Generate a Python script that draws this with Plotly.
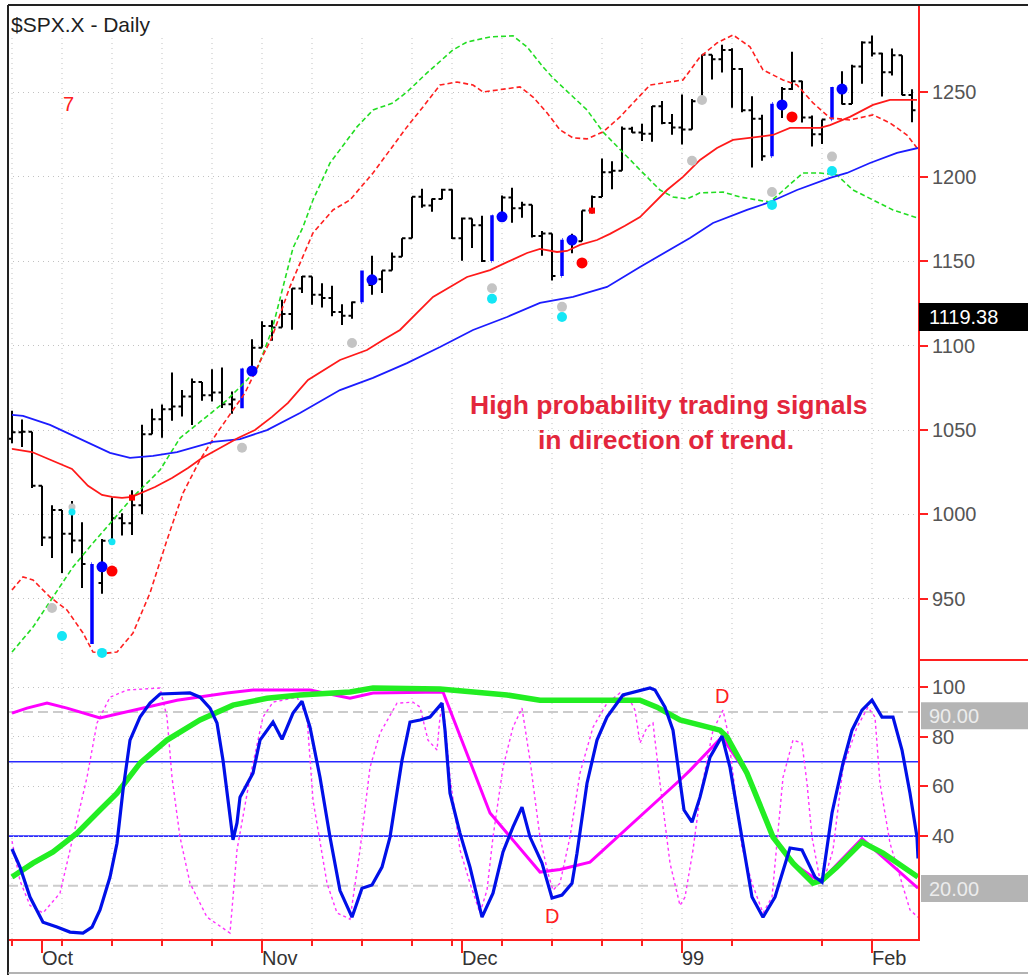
import plotly.graph_objects as go

# ---------------- DATA (trading-day index: 1998-10-01 = 0) ----------------
bar_index = list(range(-3, 88))
opens = [1044.8, 1048.7, 1049.0, 1017.0, 986.4, 1002.6, 988.6, 984.6, 970.7, 959.4,
         984.4, 997.7, 994.8, 1005.5, 1047.5, 1056.4, 1062.4, 1063.9, 1069.9, 1078.5,
         1070.7, 1072.3, 1065.3, 1068.1, 1085.9, 1098.7, 1111.6, 1110.8, 1118.7, 1133.9,
         1141.0, 1130.2, 1128.3, 1120.0, 1117.7, 1125.7, 1135.9, 1139.3, 1144.5, 1152.6,
         1163.6, 1188.2, 1183.0, 1186.9, 1192.3, 1163.6, 1175.3, 1171.3, 1150.1, 1176.7,
         1187.7, 1181.4, 1183.5, 1165.0, 1166.5, 1141.2, 1162.8, 1161.9, 1180.0, 1188.0,
         1202.8, 1203.6, 1228.5, 1226.3, 1225.5, 1241.8, 1231.9, 1229.2, 1228.1, 1244.8,
         1272.3, 1269.7, 1275.1, 1263.9, 1239.5, 1234.4, 1212.2, 1243.3, 1252.0, 1256.6,
         1235.2, 1225.2, 1234.0, 1252.3, 1243.2, 1265.4, 1279.6, 1273.0, 1262.0, 1272.1,
         1248.5]
highs = [1061.5, 1056.3, 1049.0, 1017.0, 1005.5, 1002.6, 1008.0, 995.4, 970.7, 985.5,
         1010.1, 1000.8, 1014.4, 1053.1, 1062.7, 1065.2, 1084.1, 1073.7, 1080.6, 1078.5,
         1086.0, 1087.1, 1072.8, 1086.5, 1103.8, 1114.4, 1115.0, 1127.2, 1134.0, 1141.3,
         1141.0, 1136.9, 1135.5, 1124.5, 1126.1, 1144.5, 1153.3, 1144.5, 1155.2, 1163.6,
         1188.2, 1193.0, 1187.2, 1193.0, 1192.7, 1175.9, 1175.3, 1177.0, 1177.3, 1189.0,
         1193.5, 1185.2, 1183.5, 1167.9, 1166.5, 1162.8, 1166.3, 1180.0, 1188.9, 1210.9,
         1209.2, 1229.9, 1229.7, 1231.5, 1241.9, 1244.9, 1237.2, 1248.8, 1246.1, 1272.5,
         1272.3, 1278.2, 1276.2, 1264.5, 1247.8, 1236.8, 1243.3, 1253.3, 1274.1, 1256.9,
         1236.4, 1234.0, 1253.3, 1262.6, 1266.4, 1280.4, 1283.8, 1273.5, 1276.0, 1272.1,
         1251.9]
lows = [1042.2, 1039.9, 1015.7, 981.3, 974.2, 965.3, 977.1, 956.5, 923.3, 953.0,
        984.4, 987.6, 987.8, 1000.1, 1047.5, 1045.5, 1055.5, 1058.0, 1053.0, 1067.4,
        1067.0, 1063.1, 1059.7, 1063.0, 1085.9, 1098.7, 1102.9, 1110.8, 1109.5, 1131.2,
        1124.3, 1122.6, 1117.4, 1112.3, 1115.9, 1125.7, 1130.2, 1131.2, 1144.5, 1152.6,
        1163.6, 1181.7, 1179.4, 1186.8, 1163.2, 1150.3, 1157.8, 1149.6, 1150.1, 1176.7,
        1172.8, 1175.7, 1164.1, 1153.2, 1138.6, 1141.2, 1154.7, 1161.9, 1178.3, 1188.0,
        1192.7, 1203.6, 1226.1, 1221.2, 1220.8, 1231.2, 1225.0, 1219.1, 1228.1, 1244.8,
        1257.7, 1261.8, 1241.0, 1238.3, 1205.5, 1209.5, 1212.2, 1234.9, 1251.5, 1232.2,
        1218.0, 1219.5, 1234.0, 1242.8, 1243.2, 1255.2, 1271.3, 1247.6, 1260.0, 1248.4,
        1232.3]
closes = [1048.7, 1049.0, 1017.0, 986.4, 1002.6, 988.6, 984.6, 970.7, 959.4, 984.4,
          997.7, 994.8, 1005.5, 1047.5, 1056.4, 1062.4, 1063.9, 1069.9, 1078.5, 1070.7,
          1072.3, 1065.3, 1068.1, 1085.9, 1098.7, 1111.6, 1110.8, 1118.7, 1133.9, 1141.0,
          1130.2, 1128.3, 1120.0, 1117.7, 1125.7, 1135.9, 1139.3, 1144.5, 1152.6, 1163.6,
          1188.2, 1183.0, 1186.9, 1192.3, 1163.6, 1175.3, 1171.3, 1150.1, 1176.7, 1187.7,
          1181.4, 1183.5, 1165.0, 1166.5, 1141.2, 1162.8, 1161.9, 1180.0, 1188.0, 1202.8,
          1203.6, 1228.5, 1226.3, 1225.5, 1241.8, 1231.9, 1229.2, 1228.1, 1244.8, 1272.3,
          1269.7, 1275.1, 1263.9, 1239.5, 1234.4, 1212.2, 1243.3, 1252.0, 1256.6, 1235.2,
          1225.2, 1234.0, 1252.3, 1243.2, 1265.4, 1279.6, 1273.0, 1262.0, 1272.1, 1248.5,
          1239.4]
signal_bars = [5, 20, 32, 45, 52, 73, 79]

month_ticks = [0, 22, 42, 64, 83]
month_labels = ["Oct", "Nov", "Dec", "99", "Feb"]
week_ticks = [-3, 2, 7, 12, 17, 22, 27, 32, 37, 41, 46, 51, 56, 60, 64, 69, 78, 83]
price_ticks = [950, 1000, 1050, 1100, 1150, 1200, 1250]
osc_ticks = [40, 60, 80, 100]

# moving averages / bands: (day index, price)
ma_short = [(-3, 1038.8), (-1, 1037.0), (1, 1032.0), (3, 1027.0), (4.6, 1017.0), (6, 1011.6),
            (7, 1010.4), (8, 1009.8), (9, 1010.4), (10, 1012.8), (11.3, 1016.3), (13, 1021.6),
            (14.6, 1027.5), (16, 1033.5), (18, 1040.0), (19.6, 1045.3), (21.3, 1050.0),
            (23, 1057.8), (24.6, 1066.1), (26.6, 1079.7), (29.8, 1091.5), (32.5, 1097.4),
            (34.1, 1103.4), (35.8, 1109.3), (37.5, 1119.4), (39.1, 1128.9), (40.8, 1134.8),
            (42.5, 1140.7), (44.8, 1144.8), (46.5, 1149.6), (48.5, 1154.9), (49.8, 1157.3),
            (51.5, 1155.5), (52.5, 1156.1), (53.8, 1159.7), (55.5, 1162.6), (56.8, 1166.2),
            (58.3, 1171.0), (59.8, 1176.2), (62.5, 1192.2), (64.1, 1200.0), (65.8, 1210.0),
            (67.5, 1217.1), (69.1, 1221.9), (70.8, 1223.1), (73.1, 1224.8), (74.8, 1229.0),
            (77.8, 1229.0), (78.8, 1230.7), (80.8, 1235.5), (83.1, 1242.6), (84.8, 1245.6),
            (87.5, 1245.6)]
ma_long = [(-3, 1059.0), (-1.9, 1058.4), (0.8, 1053.1), (4.1, 1044.1), (6.8, 1036.5),
           (8.8, 1033.5), (11.1, 1034.7), (13.5, 1037.0), (17.1, 1043.0), (19.8, 1044.7),
           (22.5, 1050.0), (25.8, 1060.1), (29.8, 1073.7), (33.1, 1080.9), (36.5, 1089.7),
           (39.8, 1099.2), (43.1, 1109.3), (46.5, 1117.0), (49.8, 1125.3), (53.1, 1128.9),
           (56.5, 1134.8), (59.8, 1146.6), (64.8, 1163.8), (67.1, 1172.7), (70.5, 1180.4),
           (72.8, 1185.1), (75.5, 1192.2), (78.8, 1199.4), (80.5, 1202.3), (82.8, 1208.2),
           (85.5, 1214.2), (87.6, 1217.1)]
band_red = [(-3, 955.3), (-1.9, 963.0), (-0.9, 961.2), (0.8, 951.1), (2.5, 943.4), (4.1, 929.8),
            (5.1, 918.5), (6.5, 917.9), (7.5, 918.5), (9.1, 929.8), (10.8, 953.5), (12.5, 984.9),
            (14.1, 1012.7), (15.8, 1032.3), (17.5, 1048.3), (19.1, 1061.9), (20.3, 1072.0),
            (22, 1093.0), (23, 1105.0), (24.8, 1135.0), (27.1, 1166.8), (29.1, 1180.4),
            (30.8, 1186.3), (33.1, 1202.3), (36.5, 1229.6), (38.1, 1241.4), (39.8, 1254.4),
            (41.5, 1256.2), (43.1, 1254.4), (44.1, 1250.3), (45.5, 1251.5), (47.8, 1253.3),
            (49.1, 1247.3), (50.5, 1237.9), (51.8, 1227.8), (53.1, 1223.1), (54.5, 1222.5),
            (56.1, 1226.6), (57.8, 1235.5), (60.8, 1254.4), (64.1, 1257.4), (65.8, 1271.0),
            (67.5, 1279.3), (69.1, 1284.1), (70.8, 1277.0), (72.1, 1263.3), (74.1, 1257.4),
            (75.5, 1254.4), (77.1, 1243.8), (78.8, 1234.9), (80.8, 1233.7), (83.1, 1236.7),
            (84.8, 1231.9), (86.5, 1224.8), (87.5, 1217.1)]
band_green = [(-3, 918.5), (-0.9, 933.3), (1.1, 951.1), (3.1, 968.9), (5.1, 983.1), (7.1, 996.7),
              (9.1, 1010.4), (11.8, 1026.3), (13.8, 1045.3), (15.8, 1054.8), (18.5, 1067.8),
              (20.5, 1079.7), (21.6, 1087.4), (23, 1109.3), (25.1, 1157.9), (26.1, 1170.3),
              (27.1, 1186.3), (28.8, 1208.2), (30.5, 1221.9), (31.5, 1229.6), (33.1, 1239.6),
              (35.1, 1243.8), (36.5, 1250.3), (38.5, 1261.6), (41.1, 1275.2), (42.5, 1279.9),
              (44.8, 1282.9), (47.1, 1283.5), (48.5, 1277.0), (50.1, 1265.1), (51.1, 1258.6),
              (53.1, 1247.3), (54.5, 1239.6), (56.1, 1226.6), (58.1, 1214.2), (59.8, 1204.1),
              (61.8, 1192.2), (63.1, 1188.1), (64.5, 1186.9), (65.8, 1190.5), (68.1, 1191.0),
              (69.8, 1188.1), (71.5, 1186.3), (72.8, 1185.1), (74.5, 1194.0), (76.1, 1202.3),
              (77.8, 1202.3), (79.5, 1201.1), (81.1, 1192.2), (83.1, 1186.3), (85.1, 1180.4),
              (87.5, 1175.7)]

# signal markers (day index, price)
blue_dots = [(6, 969.0), (21, 1085.0), (33, 1139.0), (46, 1176.3), (53, 1162.6), (74, 1242.6), (80, 1252.0)]
red_dots = [(7, 966.5), (54, 1149.0), (75, 1235.5)]
red_small = [(9, 1010.0), (55, 1180.0)]
cyan_dots = [(2, 928.0), (6, 918.0), (45, 1127.8), (52, 1117.0), (73, 1183.4), (79, 1203.5)]
cyan_small = [(3, 1001.4), (7, 983.8)]
gray_dots = [(1, 944.6), (20, 1039.5), (31, 1101.6), (45, 1134.0), (52, 1123.0), (65, 1209.5),
             (66, 1245.5), (73, 1191.0), (79, 1212.0)]
gray_small = [(3, 1004.5)]
last_price_label = 1119.38

# oscillator pane (day index, value)
osc_fast = [(-3, 34.8), (-2.2, 27.5), (-1.2, 15.4), (0.1, 5.3), (1.5, 3.3), (2.8, 1.3), (4.1, 0.9),
            (5, 3.3), (5.8, 10.2), (6.8, 23.5), (7.5, 37.1), (8.1, 58.5), (8.8, 78.7), (9.8, 88.0),
            (10.8, 93.6), (11.8, 97.3), (14.8, 97.7), (15.8, 96.0), (16.8, 91.6), (17.5, 85.6),
            (18.1, 70.6), (18.8, 47.7), (19.1, 38.5), (19.5, 45.3), (19.8, 55.7), (21.1, 65.4),
            (21.8, 78.7), (23.1, 86.0), (24, 79.0), (25.1, 89.6), (26, 94.4), (26.8, 83.9),
            (27.8, 63.7), (28.8, 39.6), (29.8, 18.0), (31, 7.3), (32, 19.0), (33, 20.3), (34, 27.5),
            (34.8, 39.6), (36, 70.6), (36.8, 86.0), (37.8, 86.8), (38.8, 88.0), (40, 93.6),
            (40.3, 82.7), (40.8, 57.3), (41.8, 41.2), (42.8, 27.5), (44, 7.3), (45.1, 17.0),
            (46.1, 33.6), (47.1, 43.7), (48, 51.7), (48.8, 39.6), (50, 29.1), (51, 15.0), (52, 16.2),
            (53, 21.0), (53.5, 33.1), (54.5, 61.3), (55.5, 78.7), (56.5, 88.0), (58.1, 96.9),
            (60.8, 99.7), (61.3, 98.9), (62.3, 92.0), (63.1, 82.7), (63.5, 70.6), (63.8, 62.0),
            (64.2, 50.5), (65, 45.6), (65.8, 55.7), (66.8, 71.8), (68, 80.3), (68.8, 67.7),
            (69.8, 43.7), (71, 15.4), (72.1, 7.3), (73.3, 15.4), (74.8, 35.2), (76, 34.4),
            (77.3, 23.5), (78, 21.4), (79, 49.3), (80.1, 69.4), (81, 82.7), (82, 90.8), (83, 94.8),
            (84, 88.0), (85.1, 88.0), (86, 74.7), (86.8, 57.3), (87.5, 39.6), (87.6, 31.0)]
osc_green = [(-3, 23.5), (-0.9, 29.1), (1.1, 33.6), (3.5, 41.2), (5.8, 50.5), (7.5, 57.3), (9.8, 69.4),
             (12.5, 78.7), (15.8, 86.8), (19.1, 92.8), (22.5, 95.6), (25.8, 96.9), (30.8, 98.1),
             (33.1, 99.7), (39.8, 99.3), (43.8, 98.1), (46.5, 96.9), (49.8, 94.8), (56.5, 94.8),
             (59.8, 94.8), (61.5, 92.0), (63.1, 88.0), (63.8, 86.8), (67.8, 82.7), (68.5, 80.0),
             (70.5, 65.4), (73.1, 39.6), (75.1, 29.1), (77.1, 21.0), (78, 22.2), (79.5, 27.5),
             (82, 37.6), (84.1, 33.1), (87.6, 23.5)]
osc_magenta = [(-3, 89.6), (-1.5, 91.6), (0.5, 93.6), (2.5, 91.6), (5.8, 87.6), (7.1, 88.8), (10.1, 91.6),
               (13.5, 94.8), (18.5, 97.7), (21.1, 98.9), (26.8, 98.9), (30.8, 95.6), (33.1, 97.7),
               (40.1, 98.1), (44.8, 49.3), (49.8, 25.5), (51.8, 26.5), (54.8, 29.5), (63.8, 62.6),
               (64.8, 66.5), (68, 80.0), (70.5, 65.0), (73.1, 40.0), (75.1, 29.0), (77.8, 21.5),
               (82, 39.0), (87.6, 19.0)]
osc_magenta_fast = [(-3, 38.0), (-2.2, 22.0), (-1.2, 12.0), (0.1, 9.0), (1.8, 17.0), (3.1, 39.6), (4.5, 63.7),
                    (5.5, 85.6), (6.8, 96.0), (8.5, 98.9), (11.8, 99.7), (12.5, 88.0), (13, 63.7),
                    (13.8, 39.6), (14.8, 21.0), (16.5, 7.3), (18.8, 0.9), (19.5, 34.4), (20.8, 63.7),
                    (22.1, 88.0), (23.1, 94.0), (25.5, 96.0), (26.5, 88.0), (27.1, 54.5), (28.5, 21.0),
                    (29.5, 9.0), (30.8, 6.5), (31.8, 34.4), (32.8, 67.7), (33.8, 81.5), (35.5, 93.6),
                    (37.1, 94.0), (37.8, 92.0), (38.6, 78.7), (39.5, 74.7), (39.8, 88.0), (40.1, 93.6),
                    (40.8, 63.7), (41.8, 34.4), (42.8, 21.0), (43.8, 9.0), (44.5, 18.2), (45.1, 39.6),
                    (46.1, 67.7), (47.1, 83.9), (48, 91.6), (48.8, 70.6), (49.8, 39.6), (50.6, 25.0),
                    (51.1, 18.2), (51.8, 21.0), (52.8, 39.6), (53.8, 65.4), (55.1, 83.9), (56.5, 93.6),
                    (57.8, 97.7), (58.8, 94.8), (59.3, 90.8), (59.8, 77.5), (60.5, 83.9), (61.1, 85.6),
                    (61.8, 61.3), (62.8, 29.1), (63.8, 12.0), (64.3, 15.4), (65.1, 34.4), (65.8, 55.7),
                    (66.5, 70.6), (67.1, 82.7), (68.1, 90.8), (68.6, 81.5), (69.3, 58.5), (70, 35.6),
                    (71, 21.0), (72.1, 9.0), (73, 15.4), (73.6, 41.2), (74.1, 63.7), (75.1, 78.7),
                    (76, 77.5), (76.5, 61.3), (77, 39.6), (77.8, 22.2), (78.5, 26.3), (79.1, 34.4),
                    (80.1, 67.7), (81.5, 83.9), (82.6, 92.0), (83.3, 88.0), (83.8, 61.3), (84.8, 37.1),
                    (86, 21.0), (86.8, 10.2), (87.6, 7.3)]
osc_levels_blue = [70, 40]
osc_levels_gray = [90, 20]
d_labels = [(68, 96.5), (51, 7.7)]

# ---------------- FIGURE ----------------
FONT = "Liberation Sans, Arial, sans-serif"
W, H = 1028, 975
ML, MR, MT, MB = 8, 110, 5, 36
PW, PH = W - ML - MR, H - MT - MB
SPLIT = 279 / PH
XR = [-3.4, 87.6]


def px_x(p):
    return (p - ML) / PW


def px_y(p):
    return (H - MB - p) / PH


def xs(pairs):
    return [a for a, _ in pairs]


def ys(pairs):
    return [b for _, b in pairs]


fig = go.Figure()

norm = [i for i, d in enumerate(bar_index) if d not in signal_bars]
sig = [i for i, d in enumerate(bar_index) if d in signal_bars]

# bands
fig.add_trace(go.Scatter(x=xs(band_green), y=ys(band_green), mode="lines",
                         line=dict(color="#22dd22", width=1.6, dash="5px,3px"), xaxis="x", yaxis="y"))
fig.add_trace(go.Scatter(x=xs(band_red), y=ys(band_red), mode="lines",
                         line=dict(color="#ff2020", width=1.6, dash="5px,3px"), xaxis="x", yaxis="y"))
fig.add_trace(go.Scatter(x=xs(ma_long), y=ys(ma_long), mode="lines",
                         line=dict(color="#1c1cff", width=1.8), xaxis="x", yaxis="y"))
fig.add_trace(go.Scatter(x=xs(ma_short), y=ys(ma_short), mode="lines",
                         line=dict(color="#ff1a1a", width=1.8), xaxis="x", yaxis="y"))

fig.add_trace(go.Ohlc(x=[bar_index[i] for i in norm], open=[opens[i] for i in norm],
                      high=[highs[i] for i in norm], low=[lows[i] for i in norm],
                      close=[closes[i] for i in norm], tickwidth=0.35,
                      increasing=dict(line=dict(color="black", width=2)),
                      decreasing=dict(line=dict(color="black", width=2)),
                      xaxis="x", yaxis="y", hoverinfo="skip"))
fig.add_trace(go.Ohlc(x=[bar_index[i] for i in sig], open=[opens[i] for i in sig],
                      high=[highs[i] for i in sig], low=[lows[i] for i in sig],
                      close=[closes[i] for i in sig], tickwidth=0.06,
                      increasing=dict(line=dict(color="#0000ff", width=3.5)),
                      decreasing=dict(line=dict(color="#0000ff", width=3.5)),
                      xaxis="x", yaxis="y", hoverinfo="skip"))


def dots(pairs, color, size, symbol="circle"):
    fig.add_trace(go.Scatter(x=xs(pairs), y=ys(pairs), mode="markers",
                             marker=dict(color=color, size=size, symbol=symbol, line=dict(width=0)),
                             xaxis="x", yaxis="y"))


dots(gray_dots, "#c4c4c4", 10)
dots(gray_small, "#c4c4c4", 7)
dots(cyan_dots, "#14e6f5", 10)
dots(cyan_small, "#14e6f5", 7)
dots(blue_dots, "#0000ff", 11)
dots(red_dots, "#ff0000", 11)
dots(red_small, "#ff0000", 6, "square")

# oscillator pane
fig.add_trace(go.Scatter(x=xs(osc_magenta_fast), y=ys(osc_magenta_fast), mode="lines",
                         line=dict(color="#ff33ff", width=1.4, dash="3px,3px"), xaxis="x2", yaxis="y2"))
fig.add_trace(go.Scatter(x=xs(osc_magenta), y=ys(osc_magenta), mode="lines",
                         line=dict(color="#ff00ff", width=3), xaxis="x2", yaxis="y2"))
fig.add_trace(go.Scatter(x=xs(osc_green), y=ys(osc_green), mode="lines",
                         line=dict(color="#22ee22", width=5.5), xaxis="x2", yaxis="y2"))
fig.add_trace(go.Scatter(x=xs(osc_fast), y=ys(osc_fast), mode="lines",
                         line=dict(color="#0010e8", width=3.2), xaxis="x2", yaxis="y2"))

shapes = []
# vertical dotted weekly grid
for w in week_ticks:
    shapes.append(dict(type="line", xref="x", yref="paper", x0=w, x1=w, y0=0, y1=px_y(38),
                       line=dict(color="#c2c2c2", width=1, dash="1px,4px"), layer="below"))
for lv in osc_levels_blue:
    shapes.append(dict(type="line", xref="paper", yref="y2", x0=0, x1=1, y0=lv, y1=lv,
                       line=dict(color="#2a2aff", width=1.6), layer="below"))
for lv in osc_levels_gray:
    shapes.append(dict(type="line", xref="paper", yref="y2", x0=0, x1=1, y0=lv, y1=lv,
                       line=dict(color="#cccccc", width=2, dash="10px,5px"), layer="below"))
# red separator on the right scale
shapes.append(dict(type="line", xref="paper", yref="paper", x0=1, x1=px_x(1028), y0=SPLIT, y1=SPLIT,
                   line=dict(color="#ff2020", width=2)))
# value boxes
shapes.append(dict(type="rect", xref="paper", yref="y", x0=1.001, x1=px_x(1028), y0=1108.7, y1=1125.3,
                   fillcolor="black", line=dict(width=0)))
shapes.append(dict(type="rect", xref="paper", yref="y2", x0=px_x(921), x1=px_x(1028), y0=83.1, y1=94.0,
                   fillcolor="#b4b4b4", line=dict(width=0)))
shapes.append(dict(type="rect", xref="paper", yref="y2", x0=px_x(921), x1=px_x(1028), y0=13.4, y1=24.3,
                   fillcolor="#b4b4b4", line=dict(width=0)))
# frame
shapes.append(dict(type="line", xref="paper", yref="paper", x0=0, x1=px_x(1028), y0=px_y(5), y1=px_y(5),
                   line=dict(color="#222222", width=2)))
shapes.append(dict(type="line", xref="paper", yref="paper", x0=0, x1=0, y0=px_y(975), y1=px_y(5),
                   line=dict(color="#222222", width=2)))
shapes.append(dict(type="line", xref="paper", yref="paper", x0=0, x1=px_x(1028), y0=px_y(973), y1=px_y(973),
                   line=dict(color="#9a9a9a", width=1.5)))

ann = []
ann.append(dict(text="$SPX.X - Daily", xref="paper", yref="paper", x=px_x(9), y=px_y(24),
                xanchor="left", yanchor="middle", showarrow=False, font=dict(size=21, color="#1e1e1e")))
ann.append(dict(text="7", xref="x", yref="y", x=2.6, y=1243, showarrow=False,
                font=dict(size=20, color="#ff2020")))
ann.append(dict(text="<b>High probability trading signals</b>", xref="paper", yref="paper",
                x=px_x(669), y=px_y(405), showarrow=False, xanchor="center", yanchor="middle",
                font=dict(size=26.5, color="#e3263c")))
ann.append(dict(text="<b>in direction of trend.</b>", xref="paper", yref="paper",
                x=px_x(666), y=px_y(440), showarrow=False, xanchor="center", yanchor="middle",
                font=dict(size=26.5, color="#e3263c")))
for dx, dv in d_labels:
    ann.append(dict(text="D", xref="x2", yref="y2", x=dx, y=dv, showarrow=False,
                    font=dict(size=20, color="#ff2020")))
for mt, ml in zip(month_ticks, month_labels):
    ann.append(dict(text=ml, xref="x2", yref="paper", x=mt, y=px_y(958), xanchor="left",
                    yanchor="middle", xshift=-2, showarrow=False, font=dict(size=20, color="#333333")))
ann.append(dict(text=f"{last_price_label:.2f}", xref="paper", yref="y", x=px_x(927), y=1117.0,
                xanchor="left", yanchor="middle", showarrow=False, font=dict(size=20, color="white")))
ann.append(dict(text="90.00", xref="paper", yref="y2", x=px_x(927), y=88.6,
                xanchor="left", yanchor="middle", showarrow=False, font=dict(size=20, color="#ececec")))
ann.append(dict(text="20.00", xref="paper", yref="y2", x=px_x(927), y=18.8,
                xanchor="left", yanchor="middle", showarrow=False, font=dict(size=20, color="#ececec")))

fig.update_layout(
    width=W, height=H, margin=dict(l=ML, r=MR, t=MT, b=MB, pad=0),
    paper_bgcolor="white", plot_bgcolor="rgba(0,0,0,0)", showlegend=False,
    font=dict(family=FONT, size=20, color="#555555"),
    xaxis=dict(domain=[0, 1], range=XR, anchor="y", showticklabels=False, showgrid=False,
               zeroline=False, ticks="", rangeslider=dict(visible=False), fixedrange=True),
    xaxis2=dict(domain=[0, 1], range=XR, anchor="y2", showline=True, linecolor="#ff2020", linewidth=2,
                ticks="outside", tickvals=month_ticks, ticklen=12, tickwidth=2, tickcolor="#ff2020",
                showticklabels=False, showgrid=False, zeroline=False,
                minor=dict(tickvals=week_ticks, ticks="outside", ticklen=5, tickwidth=2,
                           tickcolor="#ff2020", showgrid=False)),
    yaxis=dict(domain=[SPLIT, 1], range=[913.8, 1301.8], anchor="x", side="right", showline=True,
               linecolor="#ff2020", linewidth=2, ticks="outside", ticklen=8, tickwidth=2,
               tickcolor="#ff2020", tickvals=price_ticks, showgrid=True, gridcolor="#c2c2c2",
               griddash="1px,4px", gridwidth=1, zeroline=False,
               tickfont=dict(size=20, color="#555555")),
    yaxis2=dict(domain=[0, SPLIT], range=[-1.5, 111], anchor="x2", side="right", showline=True,
                linecolor="#ff2020", linewidth=2, ticks="outside", ticklen=8, tickwidth=2,
                tickcolor="#ff2020", tickvals=osc_ticks, showgrid=True, gridcolor="#c2c2c2",
                griddash="1px,4px", gridwidth=1, zeroline=False,
                tickfont=dict(size=20, color="#555555")),
    shapes=shapes, annotations=ann,
)

fig.write_html("out.html", config={"displayModeBar": False, "staticPlot": True},
               post_script="document.body.style.margin='0px';document.body.style.padding='0px';")
